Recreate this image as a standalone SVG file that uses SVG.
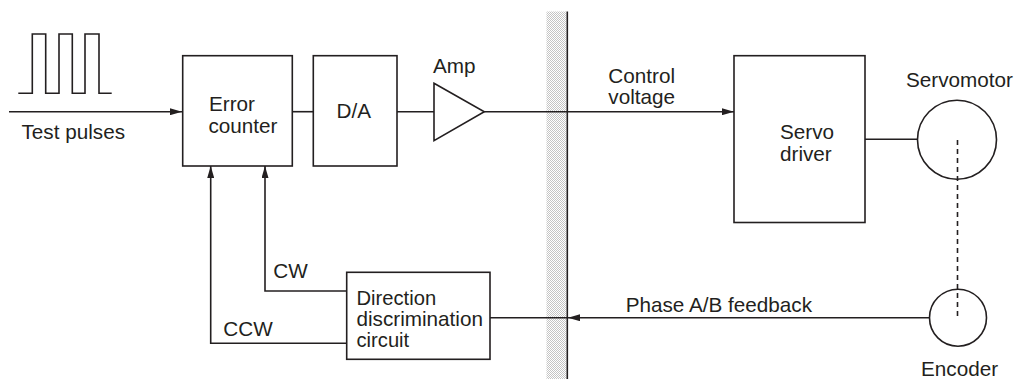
<svg xmlns="http://www.w3.org/2000/svg" width="1018" height="379" viewBox="0 0 1018 379">
<style>
.box{fill:none;stroke:#231f20;stroke-width:1.6}
.ln{fill:none;stroke:#231f20;stroke-width:1.6}
.t{font-family:"Liberation Sans",Arial,Helvetica,sans-serif;font-size:20.7px;fill:#231f20}
.s{font-size:20.2px}
</style>
<defs>
<marker id="ah" viewBox="0 0 12 7" refX="12" refY="3.5" markerWidth="12" markerHeight="7" markerUnits="userSpaceOnUse" orient="auto">
<path d="M0,0 L12,3.5 L0,7 Z" fill="#231f20"/>
</marker>
<pattern id="dots" width="2" height="2" patternUnits="userSpaceOnUse">
<rect width="2" height="2" fill="#ffffff"/>
<rect x="0" y="0" width="1" height="1" fill="#c4c4c4"/>
<rect x="1" y="1" width="1" height="1" fill="#c4c4c4"/>
</pattern>
</defs>
<rect width="1018" height="379" fill="#ffffff"/>
<g id="boundary">
<rect x="546.5" y="11.5" width="20" height="368" fill="url(#dots)"/>
<line x1="567.3" y1="11.5" x2="567.3" y2="379" class="ln"/>
</g>
<g id="pulses">
<path class="ln" d="M18.3,93.3 H32.3 V34 H45.7 V93.3 H59 V34 H72.3 V93.3 H85 V34 H99 V93.3 H111.7"/>
<text class="t" x="21.5" y="138.5">Test pulses</text>
</g>
<g id="error-counter">
<rect class="box" x="182.7" y="55.7" width="109.6" height="110.3"/>
<text class="t" x="209" y="111">Error</text>
<text class="t" x="208.5" y="132.7">counter</text>
</g>
<g id="da">
<rect class="box" x="313.3" y="55.7" width="83.7" height="110.3"/>
<text class="t" x="336.5" y="117.5">D/A</text>
</g>
<g id="amp">
<path class="box" d="M434,83.3 L484.3,111.7 L434,140.7 Z"/>
<text class="t" x="433" y="73.3">Amp</text>
</g>
<g id="servo-driver">
<rect class="box" x="734" y="55.7" width="131" height="166.8"/>
<text class="t" x="780" y="139">Servo</text>
<text class="t" x="780" y="160.5">driver</text>
</g>
<g id="servomotor">
<circle class="box" cx="957" cy="139.7" r="39.5"/>
<text class="t" x="906" y="86.7">Servomotor</text>
</g>
<g id="encoder">
<circle class="box" cx="958" cy="317.7" r="28.5"/>
<text class="t" x="921" y="376">Encoder</text>
</g>
<g id="direction-circuit">
<rect class="box" x="346.7" y="272.3" width="143.3" height="87"/>
<text class="t s" x="356.5" y="305.3">Direction</text>
<text class="t" x="356.5" y="326.3">discrimination</text>
<text class="t s" x="356.5" y="347.3">circuit</text>
</g>
<g id="connectors">
<line class="ln" x1="9" y1="111.7" x2="182" y2="111.7" marker-end="url(#ah)"/>
<line class="ln" x1="292.3" y1="111.7" x2="313.3" y2="111.7"/>
<line class="ln" x1="397" y1="111.7" x2="434" y2="111.7"/>
<line class="ln" x1="484.3" y1="111.7" x2="734" y2="111.7" marker-end="url(#ah)"/>
<text class="t" x="608.3" y="82.7">Control</text>
<text class="t" x="608.3" y="103.5">voltage</text>
<line class="ln" x1="865" y1="139.3" x2="917.5" y2="139.3"/>
<line x1="957.5" y1="140" x2="957.5" y2="318.3" stroke="#231f20" stroke-width="1.6" stroke-dasharray="5,4"/>
<line class="ln" x1="929.5" y1="317.7" x2="568" y2="317.7" marker-end="url(#ah)"/>
<line class="ln" x1="568" y1="317.7" x2="490" y2="317.7"/>
<text class="t" x="625.7" y="311.7">Phase A/B feedback</text>
<polyline class="ln" points="346.7,291 265,291 265,166" marker-end="url(#ah)"/>
<text class="t" x="273.3" y="278.3">CW</text>
<polyline class="ln" points="346.7,343.3 210.7,343.3 210.7,166" marker-end="url(#ah)"/>
<text class="t" x="223.3" y="336">CCW</text>
</g>
</svg>
